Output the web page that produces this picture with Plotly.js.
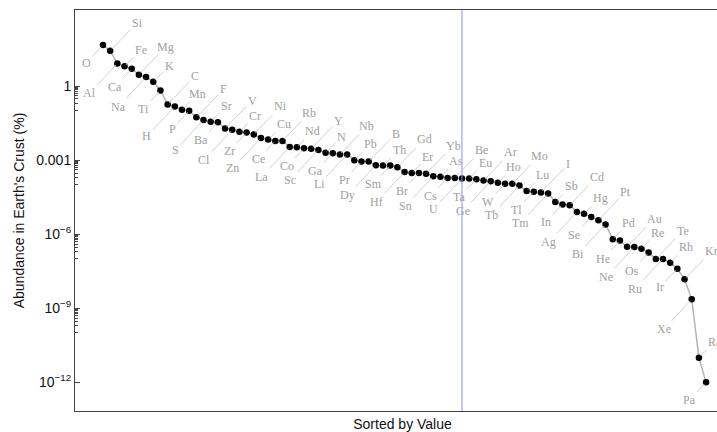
<!DOCTYPE html>
<html>
<head>
<meta charset="utf-8">
<script src="https://cdn.plot.ly/plotly-3.0.1.min.js"></script>
<style>
  html, body { margin: 0; padding: 0; width: 717px; height: 432px; overflow: hidden; background: #fff; }
  #chart { width: 730px; height: 432px; }
</style>
</head>
<body>
<div id="chart"></div>
<script>
// ---- data (abundance in Earth's crust, percent by mass, sorted) ----
const elements = ["O","Si","Al","Fe","Ca","Mg","Na","K","Ti","C","H","Mn","P","F","S","Sr","Ba","V","Cl","Cr",
  "Zr","Ni","Zn","Cu","Ce","Rb","La","Nd","Co","Y","Sc","N","Ga","Nb","Li","Pb","Pr","B","Dy","Th",
  "Sm","Gd","Hf","Er","Br","Yb","Sn","As","Cs","Be","U","Eu","Ta","Ar","Ge","Ho","W","Mo","Tb","Lu",
  "Tl","I","Tm","Sb","In","Cd","Ag","Hg","Se","Pt","Bi","Pd","He","Au","Ne","Re","Os","Te","Ru","Rh",
  "Ir","Kr","Xe","Ra","Pa"];
const abundance = [46, 27, 8.2, 6.3, 5.0, 2.9, 2.3, 1.5, 0.66, 0.18, 0.15, 0.11, 0.099, 0.054, 0.042, 0.036, 0.034, 0.019, 0.017, 0.014,
  0.013, 0.011, 0.0079, 0.0068, 0.006, 0.006, 0.0034, 0.0033, 0.003, 0.0029, 0.0026, 0.002, 0.0019, 0.0017, 0.0017, 0.001, 0.00087, 0.00087, 0.00062, 0.0006,
  0.0006, 0.00052, 0.00033, 0.0003, 0.0003, 0.00028, 0.00022, 0.00021, 0.00019, 0.00019, 0.00018, 0.00018, 0.00017, 0.00015, 0.00014, 0.00012, 0.00011, 0.00011, 0.000094, 0.000056,
  0.000053, 0.000049, 0.000045, 0.00002, 0.000016, 0.000015, 0.0000079, 0.0000067, 0.000005, 0.0000037, 0.0000025, 6.3e-7, 5.5e-7, 3.1e-7, 3e-7, 2.6e-7, 1.8e-7, 1e-7, 1e-7, 7e-8,
  4e-8, 1.5e-8, 2.3e-9, 1e-11, 1e-12];
const yTickVals = [1, 1e-3, 1e-6, 1e-9, 1e-12];
const yTickText = ["1", "0.001", "10<sup>\u22126</sup>", "10<sup>\u22129</sup>", "10<sup>\u221212</sup>"];
const refLineX = 51;

// ---- build ----
const xs = elements.map((_, i) => i + 1);

const trace = {
  x: xs, y: abundance, text: elements, type: 'scatter', mode: 'lines+markers',
  line: { color: '#b4b4b4', width: 1.5 },
  marker: { color: '#000', size: 6.5 },
  hoverinfo: 'text+y'
};

// callout pattern: below-near, above-far, below-far, above-near (repeating)
const offsets = [[-17, 18], [27, -28], [-28, 30], [16, -16]];
const annotations = elements.map((el, i) => {
  const o = offsets[i % 4];
  return {
    x: xs[i], y: Math.log10(abundance[i]), xref: 'x', yref: 'y',
    text: el, showarrow: true, arrowhead: 0, arrowwidth: 0.8, arrowcolor: '#c4c4c4',
    standoff: 2, ax: o[0], ay: o[1],
    font: { family: 'Liberation Serif, serif', size: 12, color: '#a0a0a0' }
  };
});

const minorVals = [];
yTickVals.slice(0, 4).forEach(v => { for (let k = 1; k <= 9; k++) minorVals.push(v * k / 10); });

const layout = {
  width: 730, height: 432,
  margin: { l: 75, r: 0, t: 10, b: 21 },
  paper_bgcolor: '#fff', plot_bgcolor: '#fff',
  showlegend: false,
  font: { family: 'Liberation Sans, Arial, sans-serif', size: 14, color: '#111' },
  xaxis: {
    range: [-2.9, 88.33], showline: true, mirror: true, linecolor: '#444', linewidth: 1,
    ticks: '', showticklabels: false, showgrid: false, zeroline: false,
    title: { text: 'Sorted by Value', standoff: 9, font: { size: 14, color: '#111' } }
  },
  yaxis: {
    type: 'log', range: [-13.16, 3.08], showline: true, mirror: true, linecolor: '#444', linewidth: 1,
    showgrid: false, zeroline: false,
    tickmode: 'array', tickvals: yTickVals, ticktext: yTickText,
    ticks: 'inside', ticklen: 5, tickcolor: '#444',
    minor: { tickmode: 'array', tickvals: minorVals, ticks: 'inside', ticklen: 3, tickcolor: '#444', showgrid: false },
    tickfont: { size: 14, color: '#111' },
    title: { text: "Abundance in Earth's Crust (%)", standoff: 8, font: { size: 14, color: '#111' } }
  },
  shapes: [{
    type: 'line', xref: 'x', yref: 'paper', x0: refLineX, x1: refLineX, y0: 0, y1: 1,
    line: { color: 'rgb(140,140,255)', width: 1 }
  }],
  annotations: annotations
};

Plotly.newPlot('chart', [trace], layout, { displayModeBar: false, staticPlot: true });
</script>
</body>
</html>
